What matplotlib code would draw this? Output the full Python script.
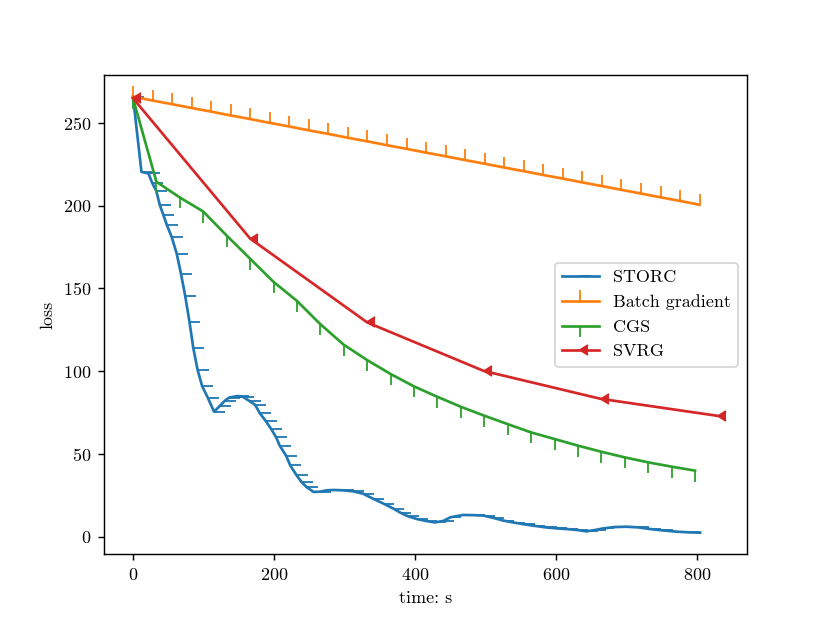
import numpy as np
import matplotlib
matplotlib.use("Agg")
import matplotlib.pyplot as plt

plt.rcParams['font.family'] = 'serif'
plt.rcParams['font.serif'] = ['cmr10']
plt.rcParams['mathtext.fontset'] = 'cm'
plt.rcParams['axes.formatter.use_mathtext'] = True

# STORC
storc_t = [0, 12, 17, 22, 27, 33, 38, 43, 48, 55, 62, 68, 74, 80, 85.5, 91.5, 98, 106, 115,
           123, 130, 136, 142, 149, 156, 166, 173, 180, 188, 196, 203, 208, 217, 223, 232,
           239, 246, 256, 265, 275, 284, 298, 312, 326, 340, 355, 369, 379, 390, 402, 415,
           428, 440, 450, 468, 483, 497, 511, 525, 540, 554, 568, 585, 600, 615, 630, 643,
           655, 667, 683, 700, 716, 733, 750, 771, 788, 804]
storc_loss = [266, 220.5, 220, 219.5, 214, 209, 200.5, 194.5, 188.4, 181, 171, 159, 145.5,
              130, 114, 101, 91, 84, 75.5, 79, 82, 84, 84.5, 85, 84.5, 81.7, 79.7, 74.5, 70,
              65, 60, 55, 49, 43, 37, 33, 30, 27, 27.2, 28, 28.2, 28, 27.4, 26, 23, 20, 17,
              14.5, 12.3, 10.7, 9.5, 8.6, 9.5, 11.7, 13.1, 13, 12.7, 11.3, 9.7, 8.5, 7.5, 6.6,
              5.6, 5, 4.6, 4, 3.2, 4, 5, 5.8, 6, 5.6, 4.6, 3.8, 3, 2.6, 2.4]

# Batch gradient
batch_t = [0, 27.7, 55.4, 83.1, 110.8, 138.5, 166.2, 193.9, 221.6, 249.3, 277, 304.7,
           332.4, 360.1, 387.8, 415.5, 443.2, 470.9, 498.6, 526.3, 554, 581.7, 609.4,
           637.1, 664.8, 692.5, 720.2, 747.9, 775.6, 803.3]
batch_loss = [266.0, 263.6, 261.4, 259.1, 256.9, 254.6, 252.4, 250.1, 247.9, 245.6, 243.4,
              241.1, 238.9, 236.6, 234.4, 232.1, 229.9, 227.6, 225.4, 223.1, 220.9, 218.6,
              216.4, 214.1, 211.9, 209.6, 207.4, 205.1, 202.9, 200.6]

# CGS
cgs_t = [0, 33.2, 66.4, 99.6, 132.8, 166, 199.2, 232.4, 265.6, 298.8, 332, 365.2, 398.4,
         431.6, 464.8, 498, 531.2, 564.4, 597.6, 630.8, 664, 697.2, 730.4, 763.6, 796.8]
cgs_loss = [265, 214.5, 205, 196.5, 182, 168, 154, 142.5, 128.4, 116, 106.7, 98.3, 90.8,
            84.5, 78.5, 73.1, 68, 63, 59, 55, 51.3, 47.9, 44.9, 42.3, 39.9]

# SVRG
svrg_t = [0, 166, 332, 497, 663, 829]
svrg_loss = [265, 180.2, 129.5, 100.2, 83.3, 73]

dpi = 129.6875
fig = plt.figure(figsize=(830 / dpi, 623 / dpi), dpi=dpi)
ax = fig.add_subplot(111)
ax.plot(storc_t, storc_loss, marker=1, markevery=slice(0, -1), label='STORC')
ax.plot(batch_t, batch_loss, marker=2, label='Batch gradient')
ax.plot(cgs_t, cgs_loss, marker=3, label='CGS')
ax.plot(svrg_t, svrg_loss, marker=4, label='SVRG')

ax.set_xlabel('time: s')
ax.set_ylabel('loss')
ax.legend(loc='center right')

fig.savefig('out.png', dpi=dpi)
